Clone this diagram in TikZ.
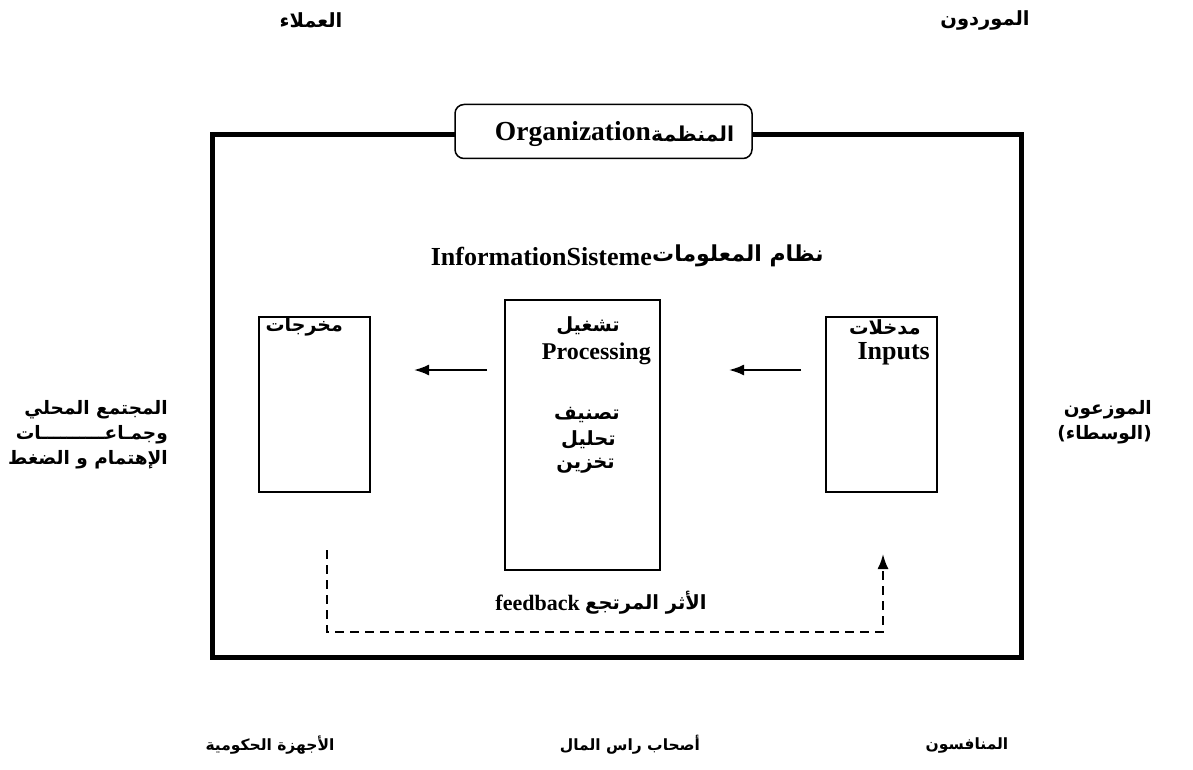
\documentclass[tikz,border=0pt]{standalone}
\usepackage{fontspec}
\setmainfont{Liberation Serif}
\newfontfamily\arfont[Script=Arabic]{DejaVu Sans}
\TeXXeTstate=1
\usetikzlibrary{arrows.meta}
\newcommand\AR[1]{{\arfont\bfseries\beginR #1\endR}}
\begin{document}
\begin{tikzpicture}[x=1pt,y=-1pt,
  lat/.style={font=\fontsize{26}{30}\selectfont\bfseries, inner sep=0pt},
  arl/.style={font=\fontsize{19.5}{25}\selectfont\bfseries, inner sep=0pt},
  arb/.style={font=\fontsize{15.5}{20}\selectfont\bfseries, inner sep=0pt},
  boxx/.style={draw, line width=1.5pt},
  arr/.style={line width=2pt, -{Latex[length=15pt,width=11pt]}},
  fb/.style={line width=2pt, dash pattern=on 9pt off 6pt}]
\useasboundingbox (0,0) rectangle (1193,770);
% outer frame
\draw[line width=5pt] (212,135) rectangle (1021,657);
\node[draw, fill=white, line width=1.5pt, rounded corners=9pt, minimum width=297pt, minimum height=54pt, inner sep=0pt] (tab) at (603.5,131.5) {};
\node[lat, font=\fontsize{27.5}{30}\selectfont\bfseries, anchor=east] (orgL) at (651,134) {Organization};
\node[arl, font=\fontsize{20.5}{25}\selectfont\bfseries, anchor=west] (orgA) at (orgL.east) {\AR{المنظمة}};
% title
\node[lat, anchor=east] (titL) at (652,256) {InformationSisteme};
\node[arl, font=\fontsize{22}{25}\selectfont\bfseries, anchor=west] (titA) at (titL.east) {\AR{نظام المعلومات}};
% boxes
\draw[boxx] (259,317) rectangle (370,492);
\draw[boxx] (505,300) rectangle (660,570);
\draw[boxx] (826,317) rectangle (937,492);
% box texts
\node[arl, font=\fontsize{19}{25}\selectfont\bfseries, anchor=east] (out1) at (343,327) {\AR{مخرجات}};
\node[arl, anchor=east] (proc1) at (620,326) {\AR{تشغيل}};
\node[lat, font=\fontsize{24}{30}\selectfont\bfseries, anchor=east] (proc2) at (651,354) {Processing};
\node[arl, anchor=east] (proc3) at (620,415) {\AR{تصنيف}};
\node[arl, anchor=east] (proc4) at (616,440) {\AR{تحليل}};
\node[arl, anchor=east] (proc5) at (615,466) {\AR{تخزين}};
\node[arl, anchor=east] (in1) at (921,327) {\AR{مدخلات}};
\node[lat, anchor=east] (in2) at (930,354) {Inputs};
% arrows
\coordinate (a1s) at (487,370); \coordinate (a1e) at (414,370);
\coordinate (a2s) at (801,370); \coordinate (a2e) at (729,370);
\draw[arr] (a1s) -- (a1e);
\draw[arr] (a2s) -- (a2e);
% feedback
\coordinate (fbL) at (327,550);
\coordinate (fbB) at (883,632);
\coordinate (fbM) at (883,567);
\coordinate (fbH) at (883,554);
\draw[fb] (fbL) -- (fbL |- fbB) -- (fbB) -- (fbM);
\draw[arr] (fbM) -- (fbH);
\node[lat, font=\fontsize{22}{28}\selectfont\bfseries, anchor=east] (fbT) at (580,603) {feedback};
\node[arl, anchor=west] (fbA) at ([xshift=5pt]fbT.east) {\AR{الأثر المرتجع}};
% outside labels
\node[arl] (cust) at (311,20) {\AR{العملاء}};
\node[arl] (supp) at (985,20) {\AR{الموردون}};
\node[arl, font=\fontsize{18.5}{25}\selectfont\bfseries, align=right, anchor=north east] (comm) at (168,400) {\AR{المجتمع  المحلي}\\ \AR{وجمـاعــــــــــات}\\ \AR{الإهتمام و الضغط}};
\node[arl, font=\fontsize{18.5}{25}\selectfont\bfseries, align=right, anchor=north east] (dist) at (1152,400) {\AR{الموزعون}\\ \AR{(الوسطاء)}};
\node[arb] (comp) at (967,745) {\AR{المنافسون}};
\node[arb] (cap) at (630,745) {\AR{أصحاب راس المال}};
\node[arb] (gov) at (270,745) {\AR{الأجهزة الحكومية}};
\end{tikzpicture}
\end{document}
